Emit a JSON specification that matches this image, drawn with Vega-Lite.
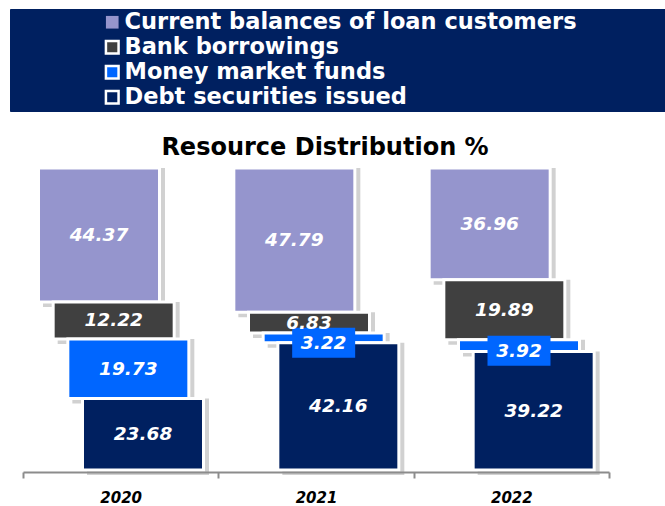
{
  "$schema": "https://vega.github.io/schema/vega-lite/v6.json",
  "width": 665,
  "height": 506,
  "autosize": {"type": "fit", "contains": "padding"},
  "padding": {"left": 22, "right": 55, "top": 135, "bottom": 1},
  "background": "white",
  "config": {"view": {"stroke": null}, "font": "DejaVu Sans"},
  "title": {
    "text": "Resource Distribution %",
    "font": "DejaVu Sans",
    "fontSize": 24,
    "fontWeight": "bold",
    "color": "black",
    "anchor": "middle",
    "baseline": "alphabetic",
    "dx": 9,
    "offset": -12
  },
  "data": {
    "values": [
      {"year": "2020", "series": "Current balances of loan customers", "value": 44.37},
      {"year": "2020", "series": "Bank borrowings", "value": 12.22},
      {"year": "2020", "series": "Money market funds", "value": 19.73},
      {"year": "2020", "series": "Debt securities issued", "value": 23.68},
      {"year": "2021", "series": "Current balances of loan customers", "value": 47.79},
      {"year": "2021", "series": "Bank borrowings", "value": 6.83},
      {"year": "2021", "series": "Money market funds", "value": 3.22},
      {"year": "2021", "series": "Debt securities issued", "value": 42.16},
      {"year": "2022", "series": "Current balances of loan customers", "value": 36.96},
      {"year": "2022", "series": "Bank borrowings", "value": 19.89},
      {"year": "2022", "series": "Money market funds", "value": 3.92},
      {"year": "2022", "series": "Debt securities issued", "value": 39.22}
    ]
  },
  "transform": [
    {"calculate": "indexof(['Current balances of loan customers','Bank borrowings','Money market funds','Debt securities issued'], datum.series)", "as": "stackOrder"},
    {"stack": "value", "groupby": ["year"], "sort": [{"field": "stackOrder", "order": "descending"}], "as": ["v0", "v1"]},
    {"calculate": "(datum.v0 + datum.v1) / 2", "as": "mid"}
  ],
  "encoding": {
    "x": {
      "field": "year",
      "type": "nominal",
      "scale": {"paddingInner": 0, "paddingOuter": 0},
      "axis": {
        "title": null,
        "labelAngle": 0,
        "labelFont": "DejaVu Sans",
        "labelFontWeight": "bold",
        "labelFontStyle": "italic",
        "labelFontSize": 15,
        "labelColor": "black",
        "labelPadding": 12,
        "labelBaseline": "top",
        "tickBand": "extent",
        "tickSize": 6,
        "tickWidth": 2,
        "tickColor": "#8c8c8c",
        "domainColor": "#8c8c8c",
        "domainWidth": 2,
        "offset": 2,
        "zindex": 1
      }
    }
  },
  "layer": [
    {
      "mark": {"type": "bar", "width": 122, "color": "#000000", "opacity": 0.18, "yOffset": 5},
      "encoding": {
        "xOffset": {"field": "series", "type": "nominal", "scale": {"type": "point", "domain": ["Current balances of loan customers", "Bank borrowings", "Money market funds", "Debt securities issued"], "range": [81, 125], "padding": 0}},
        "y": {"field": "v0", "type": "quantitative", "scale": {"domain": [0, 100], "nice": false}, "axis": null},
        "y2": {"field": "v1"}
      }
    },
    {
      "mark": {"type": "bar", "width": 121, "stroke": "white", "strokeWidth": 3, "opacity": 1},
      "encoding": {
        "xOffset": {"field": "series", "type": "nominal", "scale": {"type": "point", "domain": ["Current balances of loan customers", "Bank borrowings", "Money market funds", "Debt securities issued"], "range": [76, 120], "padding": 0}},
        "y": {"field": "v0", "type": "quantitative", "scale": {"domain": [0, 100], "nice": false}, "axis": null},
        "y2": {"field": "v1"},
        "color": {
          "field": "series",
          "type": "nominal",
          "scale": {"domain": ["Current balances of loan customers", "Bank borrowings", "Money market funds", "Debt securities issued"], "range": ["#9595cd", "#404040", "#0066ff", "#002060"]},
          "legend": {
            "orient": "none",
            "legendX": -13,
            "legendY": -159,
            "title": " ",
            "titleOrient": "right",
            "titlePadding": 90,
            "titleFontSize": 8,
            "titleColor": "#002060",
            "fillColor": "#002060",
            "strokeColor": "#002060",
            "padding": 2,
            "symbolOffset": 89,
            "symbolType": "square",
            "symbolSize": 160,
            "symbolStrokeColor": "white",
            "symbolStrokeWidth": 2.5,
            "symbolOpacity": 1,
            "labelColor": "white",
            "labelFont": "DejaVu Sans",
            "labelFontWeight": "bold",
            "labelFontSize": 22.5,
            "labelOffset": 1,
            "labelLimit": 0,
            "rowPadding": 1,
            "encode": {
              "symbols": {
                "update": {
                  "strokeWidth": {"signal": "datum.label === 'Current balances of loan customers' ? 0 : 2.5"}
                }
              }
            }
          }
        }
      }
    },
    {
      "transform": [{"filter": "datum.series === 'Money market funds' && datum.value < 5"}],
      "mark": {"type": "point", "shape": "M-1,-0.476H1V0.476H-1Z", "size": 3969, "filled": true, "color": "#0066ff", "opacity": 1, "strokeWidth": 0, "yOffset": 5},
      "encoding": {
        "xOffset": {"field": "series", "type": "nominal", "scale": {"type": "point", "domain": ["Current balances of loan customers", "Bank borrowings", "Money market funds", "Debt securities issued"], "range": [76, 120], "padding": 0}},
        "y": {"field": "mid", "type": "quantitative", "scale": {"domain": [0, 100], "nice": false}, "axis": null}
      }
    },
    {
      "transform": [{"filter": "!(datum.series === 'Money market funds' && datum.value < 5)"}],
      "mark": {"type": "text", "font": "DejaVu Sans", "fontWeight": "bold", "fontStyle": "italic", "fontSize": 18.5, "color": "white"},
      "encoding": {
        "xOffset": {"field": "series", "type": "nominal", "scale": {"type": "point", "domain": ["Current balances of loan customers", "Bank borrowings", "Money market funds", "Debt securities issued"], "range": [76, 120], "padding": 0}},
        "y": {"field": "mid", "type": "quantitative", "scale": {"domain": [0, 100], "nice": false}, "axis": null},
        "text": {"field": "value", "type": "quantitative", "format": ".2f"}
      }
    },
    {
      "transform": [{"filter": "datum.series === 'Money market funds' && datum.value < 5"}],
      "mark": {"type": "text", "font": "DejaVu Sans", "fontWeight": "bold", "fontStyle": "italic", "fontSize": 18.5, "color": "white", "yOffset": 5},
      "encoding": {
        "xOffset": {"field": "series", "type": "nominal", "scale": {"type": "point", "domain": ["Current balances of loan customers", "Bank borrowings", "Money market funds", "Debt securities issued"], "range": [76, 120], "padding": 0}},
        "y": {"field": "mid", "type": "quantitative", "scale": {"domain": [0, 100], "nice": false}, "axis": null},
        "text": {"field": "value", "type": "quantitative", "format": ".2f"}
      }
    }
  ],
  "resolve": {"scale": {"xOffset": "independent"}}
}
